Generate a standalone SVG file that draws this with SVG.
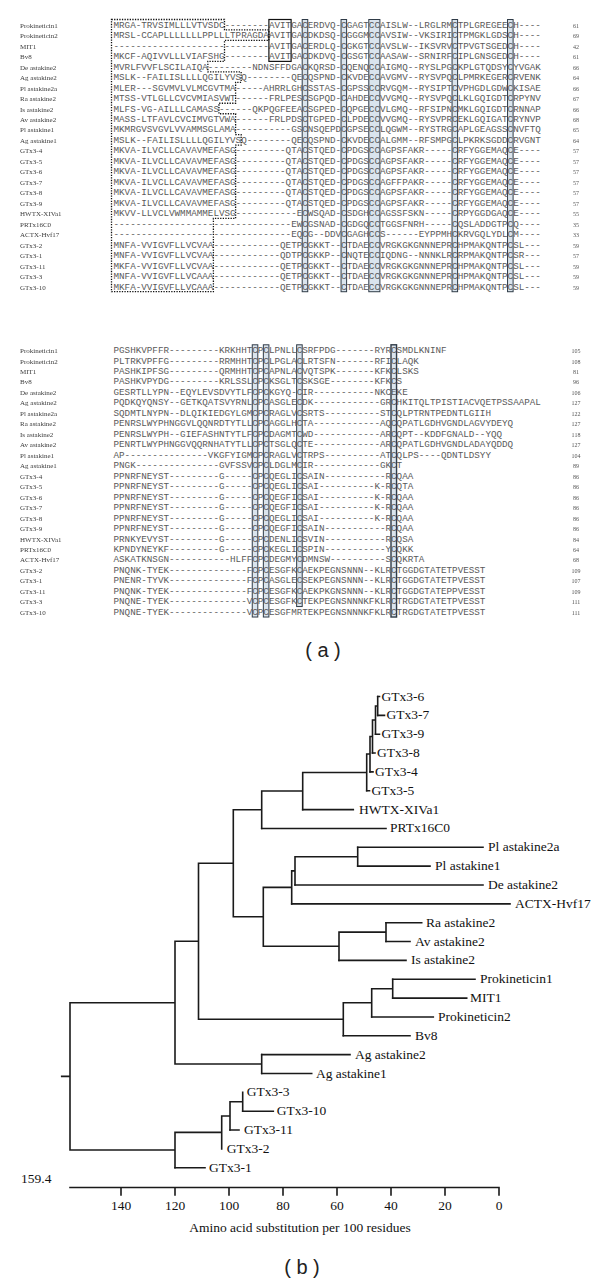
<svg xmlns="http://www.w3.org/2000/svg" width="600" height="1285" viewBox="0 0 600 1285">
<style>
.lab{font-family:"Liberation Serif",serif;font-size:7px;fill:#3c3c3c}
.seq{font-family:"Liberation Mono",monospace;font-size:9.25px;fill:#5a5a5a}
.num{font-family:"Liberation Serif",serif;font-size:6px;fill:#555;text-anchor:middle}
.cys{fill:#d3dfea;fill-opacity:0.85;stroke:#2f3b47;stroke-width:1}
.avit{fill:none;stroke:#111;stroke-width:1.2}
.sig{fill:none;stroke:#111;stroke-width:1.3;stroke-dasharray:1.3 1.3}
.tl{font-family:"Liberation Serif",serif;font-size:13.5px;fill:#111}
.br{stroke:#1a1a1a;stroke-width:1.6;fill:none;stroke-linecap:square}
.ax{font-family:"Liberation Serif",serif;font-size:13.5px;fill:#111;text-anchor:middle}
.cap{font-family:"Liberation Sans",sans-serif;font-size:20px;fill:#222;text-anchor:middle}
</style>
<defs>
<filter id="gs" x="0" y="0" width="1" height="1" filterUnits="objectBoundingBox"><feOffset dx="0" dy="0"/></filter>
<g id="rowlabels">
<text class="lab"><tspan x="20" y="27.75">Prokineticin1</tspan><tspan x="20" y="38.22">Prokineticin2</tspan><tspan x="20" y="48.69">MIT1</tspan><tspan x="20" y="59.16">Bv8</tspan><tspan x="20" y="69.63">De  astakine2</tspan><tspan x="20" y="80.1">Ag  astakine2</tspan><tspan x="20" y="90.57">Pl  astakine2a</tspan><tspan x="20" y="101.04">Ra  astakine2</tspan><tspan x="20" y="111.51">Is  astakine2</tspan><tspan x="20" y="121.98">Av  astakine2</tspan><tspan x="20" y="132.45">Pl  astakine1</tspan><tspan x="20" y="142.92">Ag  astakine1</tspan><tspan x="20" y="153.39">GTx3-4</tspan><tspan x="20" y="163.86">GTx3-5</tspan><tspan x="20" y="174.33">GTx3-6</tspan><tspan x="20" y="184.8">GTx3-7</tspan><tspan x="20" y="195.27">GTx3-8</tspan><tspan x="20" y="205.74">GTx3-9</tspan><tspan x="20" y="216.21">HWTX-XIVa1</tspan><tspan x="20" y="226.68">PRTx16C0</tspan><tspan x="20" y="237.15">ACTX-Hvf17</tspan><tspan x="20" y="247.62">GTx3-2</tspan><tspan x="20" y="258.09">GTx3-1</tspan><tspan x="20" y="268.56">GTx3-11</tspan><tspan x="20" y="279.03">GTx3-3</tspan><tspan x="20" y="289.5">GTx3-10</tspan></text>
</g>
</defs>

<g id="block1">
<rect class="cys" x="302.2" y="19.5" width="5.55" height="272.22"/>
<rect class="cys" x="341.05" y="19.5" width="5.55" height="272.22"/>
<rect class="cys" x="368.8" y="19.5" width="11.1" height="272.22"/>
<rect class="cys" x="452.05" y="19.5" width="5.55" height="272.22"/>
<rect class="cys" x="507.55" y="19.5" width="5.55" height="272.22"/>
<g filter="url(#gs)"><use href="#rowlabels"/></g>
<text class="seq"><tspan x="113.5" y="27.75">MRGA-TRVSIMLLLVTVSDC--------AVITGACERDVQ-CGAGTCCAISLW--LRGLRMCTPLGREGEECH----</tspan><tspan x="113.5" y="38.22">MRSL-CCAPLLLLLLLPPLLLTPRAGDAAVITGACDKDSQ-CGGGMCCAVSIW--VKSIRICTPMGKLGDSCH----</tspan><tspan x="113.5" y="48.69">----------------------------AVITGACERDLQ-CGKGTCCAVSLW--IKSVRVCTPVGTSGEDCH----</tspan><tspan x="113.5" y="59.16">MKCF-AQIVVLLLVIAFSHG--------AVITGACDKDVQ-CGSGTCCAASAW--SRNIRFCIPLGNSGEDCH----</tspan><tspan x="113.5" y="69.63">MVRLFVVFLSCILAIQA--------NDNSFFDGACKQRSD-CQENQCCAIGMQ--RYSLPGCKPLGTQDSYCYVGAK</tspan><tspan x="113.5" y="80.1">MSLK--FAILISLLLLQGILYVSQ--------QECQSPND-CKVDECCAVGMV--RYSVPQCLPMRKEGERCRVENK</tspan><tspan x="113.5" y="90.57">MLER---SGVMVLVLMCGVTMA-----AHRRLGHCSSTAS-CGPSSCCRVGQM--RYSIPTCVPHGDLGDWCKISAE</tspan><tspan x="113.5" y="101.04">MTSS-VTLGLLCVCVMIASVWT------FRLPESCSGPQD-CAHDECCVVGMQ--RYSVPQCLKLGQIGDTCRPYNV</tspan><tspan x="113.5" y="111.51">MLFS-VG-AILLLCAMASS------QKPQGFEEACSGPED-CQPGECCVLGMQ--RFSIPNCMKLGQIGDTCRNNAP</tspan><tspan x="113.5" y="121.98">MASS-LTFAVLCVCIMVGTVWA------FRLPDSCTGPED-CLPDECCVVGMQ--RYSVPRCEKLGQIGATCRYNVP</tspan><tspan x="113.5" y="132.45">MKMRGVSVGVLVVAMMSGLAMA----------GSCNSQEPDCGPSECCLQGWM--RYSTRGCAPLGEAGSSCNVFTQ</tspan><tspan x="113.5" y="142.92">MSLK--FAILISLLLLQGILYVSQ--------QECQSPND-CKVDECCALGMM--RFSMPGCLPKRKSGDDCRVGNT</tspan><tspan x="113.5" y="153.39">MKVA-ILVCLLCAVAVMEFASG---------QTACSTQED-CPDGSCCAGPSFAKR-----CRFYGGEMAQCE----</tspan><tspan x="113.5" y="163.86">MKVA-ILVCLLCAVAVMEFASG---------QTACSTQED-CPDGSCCAGPSFAKR-----CRFYGGEMAQCE----</tspan><tspan x="113.5" y="174.33">MKVA-ILVCLLCAVAVMEFASG---------QTACSTQED-CPDGSCCAGPSFAKR-----CRFYGGEMAQCE----</tspan><tspan x="113.5" y="184.8">MKVA-ILVCLLCAVAVMEFASG---------QTACSTQED-CPDGSCCAGFFPAKR-----CRFYGGEMAQCE----</tspan><tspan x="113.5" y="195.27">MKVA-ILVCLLCAVAVMEFASG---------QTACSTQED-CPDGSCCAGPSFAKR-----CRFYGGEMAQCE----</tspan><tspan x="113.5" y="205.74">MKVA-ILVCLLCAVAVMEFASG---------QTACSTQED-CPDGSCCAGPSFAKR-----CRFYGGEMAQCE----</tspan><tspan x="113.5" y="216.21">MKVV-LLVCLVWMMAMMELVSG-----------ECWSQAD-CSDGHCCAGSSFSKN-----CRPYGGDGAQCE----</tspan><tspan x="113.5" y="226.68">--------------------------------EWCGSNAD-CGDGQCCTGGSFNRH-----CQSLADDGTPCQ----</tspan><tspan x="113.5" y="237.15">--------------------------------EQCG--DDVCGAGHCCS------EYPPMHCKRVGQLYDLCM----</tspan><tspan x="113.5" y="247.62">MNFA-VVIGVFLLVCVAA------------QETPCGKKT--CTDAECCVRGKGKGNNNEPRCHPMAKQNTPCSL---</tspan><tspan x="113.5" y="258.09">MNFA-VVIGVFLLVCVAA------------QDTPCGKKP--CNQTECCIQDNG--NNNKLRCRPMAKQNTPCSR---</tspan><tspan x="113.5" y="268.56">MKFA-VVIGVFLLVCVAA------------QETPCGKKT--CTDAECCVRGKGKGNNNEPRCHPMAKQNTPCSL---</tspan><tspan x="113.5" y="279.03">MNFA-VVIGVFLLVCAAA------------QETPCGKKT--CTDAECCVRGKGKGNNNEPRCHPMAKQNTPCSL---</tspan><tspan x="113.5" y="289.5">MKFA-VVIGVFLLVCAAA------------QETPCGKKT--CTDAECCVRGKGKGNNNEPRCHPMAKQNTPCSL---</tspan></text>
<g filter="url(#gs)"><text class="num"><tspan x="576" y="27.75">61</tspan><tspan x="576" y="38.22">69</tspan><tspan x="576" y="48.69">42</tspan><tspan x="576" y="59.16">61</tspan><tspan x="576" y="69.63">66</tspan><tspan x="576" y="80.1">64</tspan><tspan x="576" y="90.57">66</tspan><tspan x="576" y="101.04">67</tspan><tspan x="576" y="111.51">66</tspan><tspan x="576" y="121.98">68</tspan><tspan x="576" y="132.45">65</tspan><tspan x="576" y="142.92">64</tspan><tspan x="576" y="153.39">57</tspan><tspan x="576" y="163.86">57</tspan><tspan x="576" y="174.33">57</tspan><tspan x="576" y="184.8">57</tspan><tspan x="576" y="195.27">57</tspan><tspan x="576" y="205.74">57</tspan><tspan x="576" y="216.21">55</tspan><tspan x="576" y="226.68">35</tspan><tspan x="576" y="237.15">33</tspan><tspan x="576" y="247.62">59</tspan><tspan x="576" y="258.09">57</tspan><tspan x="576" y="268.56">59</tspan><tspan x="576" y="279.03">59</tspan><tspan x="576" y="289.5">59</tspan></text></g>
<rect class="avit" x="268.9" y="19.5" width="22.2" height="41.88"/>
<path class="sig" d="M111.5 19.5 H224.5 V29.97 H268.9 V40.44 H224.5 V61.38 H207.85 V71.85 H241.15 V82.32 H235.6 V103.26 H218.95 V113.73 H235.6 V134.67 H241.15 V145.14 H235.6 V218.43 H213.4 V291.72 H111.5 Z"/>
</g>

<g id="block2" transform="translate(0,325.3)">
<rect class="cys" x="252.25" y="19.5" width="5.55" height="272.22"/>
<rect class="cys" x="263.35" y="19.5" width="5.55" height="272.22"/>
<rect class="cys" x="296.65" y="19.5" width="5.55" height="261.75"/>
<rect class="cys" x="391" y="19.5" width="5.55" height="272.22" style="stroke-width:1.4"/>
<g filter="url(#gs)"><use href="#rowlabels"/></g>
<text class="seq"><tspan x="113.5" y="27.75">PGSHKVPFFR---------KRKHHTCPCLPNLLCSRFPDG-------RYRCSMDLKNINF</tspan><tspan x="113.5" y="38.22">PLTRKVPFFG---------RRMHHTCPCLPGLACLRTSFN-------RFICLAQK</tspan><tspan x="113.5" y="48.69">PASHKIPFSG---------QRMHHTCPCAPNLACVQTSPK-------KFKCLSKS</tspan><tspan x="113.5" y="59.16">PASHKVPYDG---------KRLSSLCPCKSGLTCSKSGE--------KFKCS</tspan><tspan x="113.5" y="69.63">GESRTLLYPN--EQYLEVSDVYTLFCPCKGYQ-CIR-----------NKCEKE</tspan><tspan x="113.5" y="80.1">PQDKQYQNSY--GETKQATSVYRNLCPCASGLECDK------------GRCHKITQLTPISTIACVQETPSSAAPAL</tspan><tspan x="113.5" y="90.57">SQDMTLNYPN--DLQIKIEDGYLGMCPCRAGLVCSRTS----------STCQLPTRNTPEDNTLGIIH</tspan><tspan x="113.5" y="101.04">PENRSLWYPHNGGVLQQNRDTYTLLCPCAGGLHCTA------------AQCQPATLGDHVGNDLAGVYDEYQ</tspan><tspan x="113.5" y="111.51">PENRSLWYPH--GIEFASHNTYTLFCPCDAGMTCWD------------ARCQPT--KDDFGNALD--YQQ</tspan><tspan x="113.5" y="121.98">PENRTLWYPHNGGVQQRNHATYTLLCPCTSGLQCTE------------ARCQPATLGDHVGNDLADAYQDDQ</tspan><tspan x="113.5" y="132.45">AP---------------VKGFYIGMCPCRAGLVCTRPS----------ATCQLPS----QDNTLDSYY</tspan><tspan x="113.5" y="142.92">PNGK---------------GVFSSVCPCLDGLMCIR------------GKCT</tspan><tspan x="113.5" y="153.39">PPNRFNEYST---------G-----CPCQEGLICSAIN-----------RCQAA</tspan><tspan x="113.5" y="163.86">PPNRFNEYST---------G-----CPCQEGLICSAI----------K-RCQTA</tspan><tspan x="113.5" y="174.33">PPNRFNEYST---------G-----CPCQEGFICSAI----------K-RCQAA</tspan><tspan x="113.5" y="184.8">PPNRFNEYST---------G-----CPCQEGFICSAI----------K-RCQAA</tspan><tspan x="113.5" y="195.27">PPNRFNEYST---------G-----CPCQEGLICSAI----------K-RCQAA</tspan><tspan x="113.5" y="205.74">PPNRFNEYST---------G-----CPCQEGFICSAIN-----------RCQAA</tspan><tspan x="113.5" y="216.21">PRNKYEVYST---------G-----CPCDENLICSVIN-----------RCQSA</tspan><tspan x="113.5" y="226.68">KPNDYNEYKF---------G-----CPCKEGLICSPIN-----------YCQKK</tspan><tspan x="113.5" y="237.15">ASKATKNSGN-----------HLFFCPCDEGMYCDMNSW----------SCQKRTA</tspan><tspan x="113.5" y="247.62">PNQNK-TYEK--------------FCPCESGFKCAEKPEGNSNNN--KLRCTGGDGTATETPVESST</tspan><tspan x="113.5" y="258.09">PNENR-TYVK--------------FCPCASGLECSEKPEGNSNNN--KLRCTGGDGTATETPVESST</tspan><tspan x="113.5" y="268.56">PNQNK-TYEK--------------FCPCESGFKCAEKPKGNSNNN--KLRCTGGDGTATEPPVESST</tspan><tspan x="113.5" y="279.03">PNQNE-TYEK--------------VCPCESGFKCTEKPEGNSNNNKFKLRCTRGDGTATETPVESST</tspan><tspan x="113.5" y="289.5">PNQNE-TYEK--------------VCPCESGFMRTEKPEGNSNNNKFKLRCTRGDGTATETPVESST</tspan></text>
<g filter="url(#gs)"><text class="num"><tspan x="576" y="27.75">105</tspan><tspan x="576" y="38.22">108</tspan><tspan x="576" y="48.69">81</tspan><tspan x="576" y="59.16">96</tspan><tspan x="576" y="69.63">106</tspan><tspan x="576" y="80.1">127</tspan><tspan x="576" y="90.57">122</tspan><tspan x="576" y="101.04">127</tspan><tspan x="576" y="111.51">118</tspan><tspan x="576" y="121.98">127</tspan><tspan x="576" y="132.45">104</tspan><tspan x="576" y="142.92">89</tspan><tspan x="576" y="153.39">86</tspan><tspan x="576" y="163.86">86</tspan><tspan x="576" y="174.33">86</tspan><tspan x="576" y="184.8">86</tspan><tspan x="576" y="195.27">86</tspan><tspan x="576" y="205.74">86</tspan><tspan x="576" y="216.21">84</tspan><tspan x="576" y="226.68">64</tspan><tspan x="576" y="237.15">68</tspan><tspan x="576" y="247.62">109</tspan><tspan x="576" y="258.09">107</tspan><tspan x="576" y="268.56">109</tspan><tspan x="576" y="279.03">111</tspan><tspan x="576" y="289.5">111</tspan></text></g>
</g>

<text id="caption-a" class="cap" x="323" y="657">( a )</text>

<g id="connectors">
<path class="br" d="M377.7 696.5 H379.5 M377.7 715.35 H384.5 M375.5 734.2 H379.5 M372.5 753.05 H375 M370 771.9 H373 M366.7 790.75 H369.5 M302.7 809.6 H353.3 M261.7 828.45 H386 M357.7 847.3 H483 M357.7 866.15 H430 M295 885 H483 M291.7 903.85 H510 M386 922.7 H421.7 M386 941.55 H410 M339 960.4 H406 M392.7 979.25 H475 M392.7 998.1 H466.7 M371.7 1016.95 H433.3 M343.3 1035.8 H410 M261.7 1054.65 H350 M261.7 1073.5 H311.7 M242.7 1111.2 H273.3 M230 1130.05 H239 M175 1167.75 H205"/>
<path class="br" d="M377.7 696.5 V715.35 M375.5 706 V734.2 M375.5 706 H377.7 M372.5 720 V753.05 M372.5 720 H375.5 M370 736.5 V771.9 M370 736.5 H372.5 M366.7 754 V790.75 M366.7 754 H370 M302.7 772.5 V809.6 M302.7 772.5 H366.7 M261.7 791 V828.45 M261.7 791 H302.7 M357.7 847.3 V866.15 M295 856.7 V885 M295 856.7 H357.7 M291.7 870.9 V903.85 M291.7 870.9 H295 M386 922.7 V941.55 M339 932.1 V960.4 M339 932.1 H386 M263.3 887.4 V946.3 M263.3 887.4 H291.7 M263.3 946.3 H339 M233.3 809.7 V916.8 M233.3 809.7 H261.7 M233.3 916.8 H263.3 M392.7 979.25 V998.1 M371.7 988.7 V1016.95 M371.7 988.7 H392.7 M343.3 1002.8 V1035.8 M343.3 1002.8 H371.7 M198.5 863.3 V1019.3 M198.5 863.3 H233.3 M198.5 1019.3 H343.3 M261.7 1054.65 V1073.5 M175 941.3 V1064 M175 941.3 H198.5 M175 1064 H261.7 M242.7 1092.35 V1111.2 M230 1101.8 V1130.05 M230 1101.8 H242.7 M221.7 1116 V1148.9 M221.7 1116 H230 M175 1132.4 V1167.75 M175 1132.4 H221.7 M70 1002.7 V1150 M70 1002.7 H175 M70 1150 H175 M61.7 1076.4 H70"/>
</g>

<g id="leaves">
<g id="leaf-GTx3-6"><text class="tl" x="381.5" y="700.5">GTx3-6</text></g>
<g id="leaf-GTx3-7"><text class="tl" x="386.5" y="719.35">GTx3-7</text></g>
<g id="leaf-GTx3-9"><text class="tl" x="381.5" y="738.2">GTx3-9</text></g>
<g id="leaf-GTx3-8"><text class="tl" x="377" y="757.05">GTx3-8</text></g>
<g id="leaf-GTx3-4"><text class="tl" x="375" y="775.9">GTx3-4</text></g>
<g id="leaf-GTx3-5"><text class="tl" x="371.5" y="794.75">GTx3-5</text></g>
<g id="leaf-HWTX-XIVa1"><text class="tl" x="359" y="813.6">HWTX-XIVa1</text></g>
<g id="leaf-PRTx16C0"><text class="tl" x="390" y="832.45">PRTx16C0</text></g>
<g id="leaf-Pl-astakine2a"><text class="tl" x="488" y="851.3">Pl astakine2a</text></g>
<g id="leaf-Pl-astakine1"><text class="tl" x="435" y="870.15">Pl astakine1</text></g>
<g id="leaf-De-astakine2"><text class="tl" x="488" y="889">De astakine2</text></g>
<g id="leaf-ACTX-Hvf17"><text class="tl" x="515" y="907.85">ACTX-Hvf17</text></g>
<g id="leaf-Ra-astakine2"><text class="tl" x="426" y="926.7">Ra astakine2</text></g>
<g id="leaf-Av-astakine2"><text class="tl" x="415" y="945.55">Av astakine2</text></g>
<g id="leaf-Is-astakine2"><text class="tl" x="411" y="964.4">Is astakine2</text></g>
<g id="leaf-Prokineticin1"><text class="tl" x="480" y="983.25">Prokineticin1</text></g>
<g id="leaf-MIT1"><text class="tl" x="470" y="1002.1">MIT1</text></g>
<g id="leaf-Prokineticin2"><text class="tl" x="438" y="1020.95">Prokineticin2</text></g>
<g id="leaf-Bv8"><text class="tl" x="415" y="1039.8">Bv8</text></g>
<g id="leaf-Ag-astakine2"><text class="tl" x="355" y="1058.65">Ag astakine2</text></g>
<g id="leaf-Ag-astakine1"><text class="tl" x="316" y="1077.5">Ag astakine1</text></g>
<g id="leaf-GTx3-3"><text class="tl" x="246.7" y="1096.35">GTx3-3</text></g>
<g id="leaf-GTx3-10"><text class="tl" x="276.7" y="1115.2">GTx3-10</text></g>
<g id="leaf-GTx3-11"><text class="tl" x="244" y="1134.05">GTx3-11</text></g>
<g id="leaf-GTx3-2"><text class="tl" x="226.7" y="1152.9">GTx3-2</text></g>
<g id="leaf-GTx3-1"><text class="tl" x="209" y="1171.75">GTx3-1</text></g>
</g>

<g id="axis">
<text class="tl" x="21" y="1182.5">159.4</text>
<path class="br" d="M70 1187.5 H499 M121 1187.5 V1195 M175 1187.5 V1195 M229 1187.5 V1195 M283 1187.5 V1195 M337 1187.5 V1195 M391 1187.5 V1195 M445 1187.5 V1195 M499 1187.5 V1195"/>
<text class="ax"><tspan x="121" y="1210">140</tspan><tspan x="175" y="1210">120</tspan><tspan x="229" y="1210">100</tspan><tspan x="283" y="1210">80</tspan><tspan x="337" y="1210">60</tspan><tspan x="391" y="1210">40</tspan><tspan x="445" y="1210">20</tspan><tspan x="499" y="1210">0</tspan></text>
<text class="ax" x="300" y="1231.5">Amino acid substitution per 100 residues</text>
</g>

<text id="caption-b" class="cap" x="302" y="1274">( b )</text>
</svg>
